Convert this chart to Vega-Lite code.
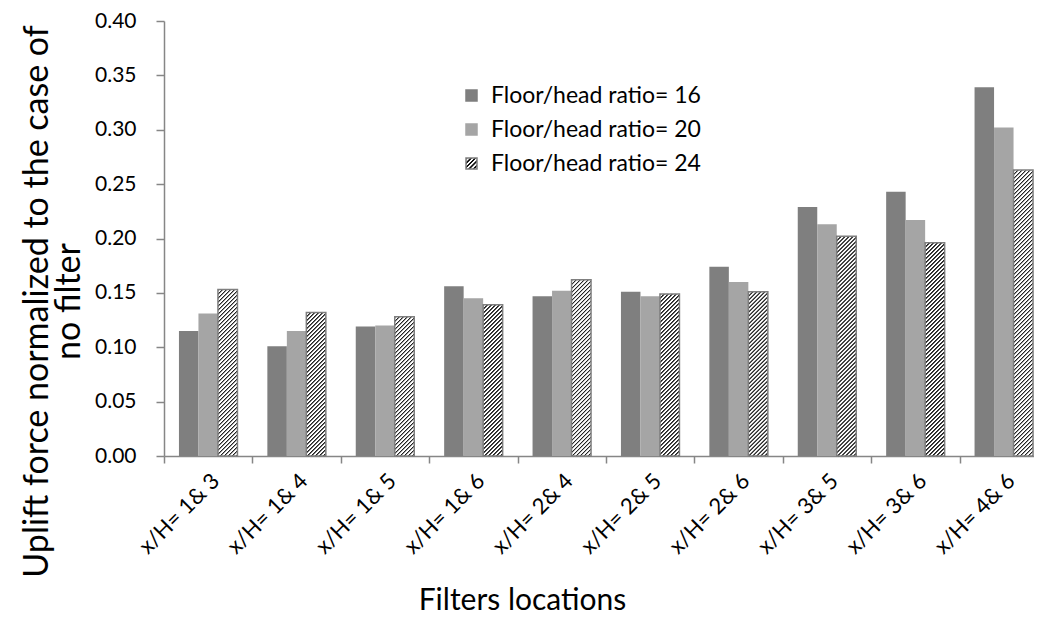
{
  "$schema": "https://vega.github.io/schema/vega-lite/v6.json",
  "autosize": {"type": "none"},
  "padding": {"left": 164, "top": 21, "right": 0, "bottom": 163},
  "width": 870,
  "height": 435,
  "background": "white",
  "params": [
    {
      "name": "hatch",
      "value": [
        {"offset":0,"color":"#222"},{"offset":0.002,"color":"#222"},{"offset":0.005,"color":"#fff"},{"offset":0.009,"color":"#fff"},
        {"offset":0.01,"color":"#222"},{"offset":0.012,"color":"#222"},{"offset":0.015,"color":"#fff"},{"offset":0.019,"color":"#fff"},
        {"offset":0.02,"color":"#222"},{"offset":0.022,"color":"#222"},{"offset":0.025,"color":"#fff"},{"offset":0.029,"color":"#fff"},
        {"offset":0.03,"color":"#222"},{"offset":0.032,"color":"#222"},{"offset":0.035,"color":"#fff"},{"offset":0.039,"color":"#fff"},
        {"offset":0.04,"color":"#222"},{"offset":0.042,"color":"#222"},{"offset":0.045,"color":"#fff"},{"offset":0.049,"color":"#fff"},
        {"offset":0.05,"color":"#222"},{"offset":0.052,"color":"#222"},{"offset":0.055,"color":"#fff"},{"offset":0.059,"color":"#fff"},
        {"offset":0.06,"color":"#222"},{"offset":0.062,"color":"#222"},{"offset":0.065,"color":"#fff"},{"offset":0.069,"color":"#fff"},
        {"offset":0.07,"color":"#222"},{"offset":0.072,"color":"#222"},{"offset":0.075,"color":"#fff"},{"offset":0.079,"color":"#fff"},
        {"offset":0.08,"color":"#222"},{"offset":0.082,"color":"#222"},{"offset":0.085,"color":"#fff"},{"offset":0.089,"color":"#fff"},
        {"offset":0.09,"color":"#222"},{"offset":0.092,"color":"#222"},{"offset":0.095,"color":"#fff"},{"offset":0.099,"color":"#fff"},
        {"offset":0.10,"color":"#222"},{"offset":0.102,"color":"#222"},{"offset":0.105,"color":"#fff"},{"offset":0.109,"color":"#fff"},
        {"offset":0.11,"color":"#222"},{"offset":0.112,"color":"#222"},{"offset":0.115,"color":"#fff"},{"offset":0.119,"color":"#fff"},
        {"offset":0.12,"color":"#222"},{"offset":0.122,"color":"#222"},{"offset":0.125,"color":"#fff"},{"offset":0.129,"color":"#fff"},
        {"offset":0.13,"color":"#222"},{"offset":0.132,"color":"#222"},{"offset":0.135,"color":"#fff"},{"offset":0.139,"color":"#fff"},
        {"offset":0.14,"color":"#222"},{"offset":0.142,"color":"#222"},{"offset":0.145,"color":"#fff"},{"offset":0.149,"color":"#fff"},
        {"offset":0.15,"color":"#222"},{"offset":0.152,"color":"#222"},{"offset":0.155,"color":"#fff"},{"offset":0.159,"color":"#fff"},
        {"offset":0.16,"color":"#222"},{"offset":0.162,"color":"#222"},{"offset":0.165,"color":"#fff"},{"offset":0.169,"color":"#fff"},
        {"offset":0.17,"color":"#222"},{"offset":0.172,"color":"#222"},{"offset":0.175,"color":"#fff"},{"offset":0.179,"color":"#fff"},
        {"offset":0.18,"color":"#222"},{"offset":0.182,"color":"#222"},{"offset":0.185,"color":"#fff"},{"offset":0.189,"color":"#fff"},
        {"offset":0.19,"color":"#222"},{"offset":0.192,"color":"#222"},{"offset":0.195,"color":"#fff"},{"offset":0.199,"color":"#fff"},
        {"offset":0.20,"color":"#222"},{"offset":0.202,"color":"#222"},{"offset":0.205,"color":"#fff"},{"offset":0.209,"color":"#fff"},
        {"offset":0.21,"color":"#222"},{"offset":0.212,"color":"#222"},{"offset":0.215,"color":"#fff"},{"offset":0.219,"color":"#fff"},
        {"offset":0.22,"color":"#222"},{"offset":0.222,"color":"#222"},{"offset":0.225,"color":"#fff"},{"offset":0.229,"color":"#fff"},
        {"offset":0.23,"color":"#222"},{"offset":0.232,"color":"#222"},{"offset":0.235,"color":"#fff"},{"offset":0.239,"color":"#fff"},
        {"offset":0.24,"color":"#222"},{"offset":0.242,"color":"#222"},{"offset":0.245,"color":"#fff"},{"offset":0.249,"color":"#fff"},
        {"offset":0.25,"color":"#222"},{"offset":0.252,"color":"#222"},{"offset":0.255,"color":"#fff"},{"offset":0.259,"color":"#fff"},
        {"offset":0.26,"color":"#222"},{"offset":0.262,"color":"#222"},{"offset":0.265,"color":"#fff"},{"offset":0.269,"color":"#fff"},
        {"offset":0.27,"color":"#222"},{"offset":0.272,"color":"#222"},{"offset":0.275,"color":"#fff"},{"offset":0.279,"color":"#fff"},
        {"offset":0.28,"color":"#222"},{"offset":0.282,"color":"#222"},{"offset":0.285,"color":"#fff"},{"offset":0.289,"color":"#fff"},
        {"offset":0.29,"color":"#222"},{"offset":0.292,"color":"#222"},{"offset":0.295,"color":"#fff"},{"offset":0.299,"color":"#fff"},
        {"offset":0.30,"color":"#222"},{"offset":0.302,"color":"#222"},{"offset":0.305,"color":"#fff"},{"offset":0.309,"color":"#fff"},
        {"offset":0.31,"color":"#222"},{"offset":0.312,"color":"#222"},{"offset":0.315,"color":"#fff"},{"offset":0.319,"color":"#fff"},
        {"offset":0.32,"color":"#222"},{"offset":0.322,"color":"#222"},{"offset":0.325,"color":"#fff"},{"offset":0.329,"color":"#fff"},
        {"offset":0.33,"color":"#222"},{"offset":0.332,"color":"#222"},{"offset":0.335,"color":"#fff"},{"offset":0.339,"color":"#fff"},
        {"offset":0.34,"color":"#222"},{"offset":0.342,"color":"#222"},{"offset":0.345,"color":"#fff"},{"offset":0.349,"color":"#fff"},
        {"offset":0.35,"color":"#222"},{"offset":0.352,"color":"#222"},{"offset":0.355,"color":"#fff"},{"offset":0.359,"color":"#fff"},
        {"offset":0.36,"color":"#222"},{"offset":0.362,"color":"#222"},{"offset":0.365,"color":"#fff"},{"offset":0.369,"color":"#fff"},
        {"offset":0.37,"color":"#222"},{"offset":0.372,"color":"#222"},{"offset":0.375,"color":"#fff"},{"offset":0.379,"color":"#fff"},
        {"offset":0.38,"color":"#222"},{"offset":0.382,"color":"#222"},{"offset":0.385,"color":"#fff"},{"offset":0.389,"color":"#fff"},
        {"offset":0.39,"color":"#222"},{"offset":0.392,"color":"#222"},{"offset":0.395,"color":"#fff"},{"offset":0.399,"color":"#fff"},
        {"offset":0.40,"color":"#222"},{"offset":0.402,"color":"#222"},{"offset":0.405,"color":"#fff"},{"offset":0.409,"color":"#fff"},
        {"offset":0.41,"color":"#222"},{"offset":0.412,"color":"#222"},{"offset":0.415,"color":"#fff"},{"offset":0.419,"color":"#fff"},
        {"offset":0.42,"color":"#222"},{"offset":0.422,"color":"#222"},{"offset":0.425,"color":"#fff"},{"offset":0.429,"color":"#fff"},
        {"offset":0.43,"color":"#222"},{"offset":0.432,"color":"#222"},{"offset":0.435,"color":"#fff"},{"offset":0.439,"color":"#fff"},
        {"offset":0.44,"color":"#222"},{"offset":0.442,"color":"#222"},{"offset":0.445,"color":"#fff"},{"offset":0.449,"color":"#fff"},
        {"offset":0.45,"color":"#222"},{"offset":0.452,"color":"#222"},{"offset":0.455,"color":"#fff"},{"offset":0.459,"color":"#fff"},
        {"offset":0.46,"color":"#222"},{"offset":0.462,"color":"#222"},{"offset":0.465,"color":"#fff"},{"offset":0.469,"color":"#fff"},
        {"offset":0.47,"color":"#222"},{"offset":0.472,"color":"#222"},{"offset":0.475,"color":"#fff"},{"offset":0.479,"color":"#fff"},
        {"offset":0.48,"color":"#222"},{"offset":0.482,"color":"#222"},{"offset":0.485,"color":"#fff"},{"offset":0.489,"color":"#fff"},
        {"offset":0.49,"color":"#222"},{"offset":0.492,"color":"#222"},{"offset":0.495,"color":"#fff"},{"offset":0.499,"color":"#fff"},
        {"offset":0.50,"color":"#222"},{"offset":0.502,"color":"#222"},{"offset":0.505,"color":"#fff"},{"offset":0.509,"color":"#fff"},
        {"offset":0.51,"color":"#222"},{"offset":0.512,"color":"#222"},{"offset":0.515,"color":"#fff"},{"offset":0.519,"color":"#fff"},
        {"offset":0.52,"color":"#222"},{"offset":0.522,"color":"#222"},{"offset":0.525,"color":"#fff"},{"offset":0.529,"color":"#fff"},
        {"offset":0.53,"color":"#222"},{"offset":0.532,"color":"#222"},{"offset":0.535,"color":"#fff"},{"offset":0.539,"color":"#fff"},
        {"offset":0.54,"color":"#222"},{"offset":0.542,"color":"#222"},{"offset":0.545,"color":"#fff"},{"offset":0.549,"color":"#fff"},
        {"offset":0.55,"color":"#222"},{"offset":0.552,"color":"#222"},{"offset":0.555,"color":"#fff"},{"offset":0.559,"color":"#fff"},
        {"offset":0.56,"color":"#222"},{"offset":0.562,"color":"#222"},{"offset":0.565,"color":"#fff"},{"offset":0.569,"color":"#fff"},
        {"offset":0.57,"color":"#222"},{"offset":0.572,"color":"#222"},{"offset":0.575,"color":"#fff"},{"offset":0.579,"color":"#fff"},
        {"offset":0.58,"color":"#222"},{"offset":0.582,"color":"#222"},{"offset":0.585,"color":"#fff"},{"offset":0.589,"color":"#fff"},
        {"offset":0.59,"color":"#222"},{"offset":0.592,"color":"#222"},{"offset":0.595,"color":"#fff"},{"offset":0.599,"color":"#fff"},
        {"offset":0.60,"color":"#222"},{"offset":0.602,"color":"#222"},{"offset":0.605,"color":"#fff"},{"offset":0.609,"color":"#fff"},
        {"offset":0.61,"color":"#222"},{"offset":0.612,"color":"#222"},{"offset":0.615,"color":"#fff"},{"offset":0.619,"color":"#fff"},
        {"offset":0.62,"color":"#222"},{"offset":0.622,"color":"#222"},{"offset":0.625,"color":"#fff"},{"offset":0.629,"color":"#fff"},
        {"offset":0.63,"color":"#222"},{"offset":0.632,"color":"#222"},{"offset":0.635,"color":"#fff"},{"offset":0.639,"color":"#fff"},
        {"offset":0.64,"color":"#222"},{"offset":0.642,"color":"#222"},{"offset":0.645,"color":"#fff"},{"offset":0.649,"color":"#fff"},
        {"offset":0.65,"color":"#222"},{"offset":0.652,"color":"#222"},{"offset":0.655,"color":"#fff"},{"offset":0.659,"color":"#fff"},
        {"offset":0.66,"color":"#222"},{"offset":0.662,"color":"#222"},{"offset":0.665,"color":"#fff"},{"offset":0.669,"color":"#fff"},
        {"offset":0.67,"color":"#222"},{"offset":0.672,"color":"#222"},{"offset":0.675,"color":"#fff"},{"offset":0.679,"color":"#fff"},
        {"offset":0.68,"color":"#222"},{"offset":0.682,"color":"#222"},{"offset":0.685,"color":"#fff"},{"offset":0.689,"color":"#fff"},
        {"offset":0.69,"color":"#222"},{"offset":0.692,"color":"#222"},{"offset":0.695,"color":"#fff"},{"offset":0.699,"color":"#fff"},
        {"offset":0.70,"color":"#222"},{"offset":0.702,"color":"#222"},{"offset":0.705,"color":"#fff"},{"offset":0.709,"color":"#fff"},
        {"offset":0.71,"color":"#222"},{"offset":0.712,"color":"#222"},{"offset":0.715,"color":"#fff"},{"offset":0.719,"color":"#fff"},
        {"offset":0.72,"color":"#222"},{"offset":0.722,"color":"#222"},{"offset":0.725,"color":"#fff"},{"offset":0.729,"color":"#fff"},
        {"offset":0.73,"color":"#222"},{"offset":0.732,"color":"#222"},{"offset":0.735,"color":"#fff"},{"offset":0.739,"color":"#fff"},
        {"offset":0.74,"color":"#222"},{"offset":0.742,"color":"#222"},{"offset":0.745,"color":"#fff"},{"offset":0.749,"color":"#fff"},
        {"offset":0.75,"color":"#222"},{"offset":0.752,"color":"#222"},{"offset":0.755,"color":"#fff"},{"offset":0.759,"color":"#fff"},
        {"offset":0.76,"color":"#222"},{"offset":0.762,"color":"#222"},{"offset":0.765,"color":"#fff"},{"offset":0.769,"color":"#fff"},
        {"offset":0.77,"color":"#222"},{"offset":0.772,"color":"#222"},{"offset":0.775,"color":"#fff"},{"offset":0.779,"color":"#fff"},
        {"offset":0.78,"color":"#222"},{"offset":0.782,"color":"#222"},{"offset":0.785,"color":"#fff"},{"offset":0.789,"color":"#fff"},
        {"offset":0.79,"color":"#222"},{"offset":0.792,"color":"#222"},{"offset":0.795,"color":"#fff"},{"offset":0.799,"color":"#fff"}
      ]
    }
  ],
  "data": {
    "values": [
      {"loc": "x/H= 1& 3", "ratio": "16", "v": 0.115},
      {"loc": "x/H= 1& 3", "ratio": "20", "v": 0.131},
      {"loc": "x/H= 1& 3", "ratio": "24", "v": 0.153},
      {"loc": "x/H= 1& 4", "ratio": "16", "v": 0.101},
      {"loc": "x/H= 1& 4", "ratio": "20", "v": 0.115},
      {"loc": "x/H= 1& 4", "ratio": "24", "v": 0.132},
      {"loc": "x/H= 1& 5", "ratio": "16", "v": 0.119},
      {"loc": "x/H= 1& 5", "ratio": "20", "v": 0.120},
      {"loc": "x/H= 1& 5", "ratio": "24", "v": 0.128},
      {"loc": "x/H= 1& 6", "ratio": "16", "v": 0.156},
      {"loc": "x/H= 1& 6", "ratio": "20", "v": 0.145},
      {"loc": "x/H= 1& 6", "ratio": "24", "v": 0.139},
      {"loc": "x/H= 2& 4", "ratio": "16", "v": 0.147},
      {"loc": "x/H= 2& 4", "ratio": "20", "v": 0.152},
      {"loc": "x/H= 2& 4", "ratio": "24", "v": 0.162},
      {"loc": "x/H= 2& 5", "ratio": "16", "v": 0.151},
      {"loc": "x/H= 2& 5", "ratio": "20", "v": 0.147},
      {"loc": "x/H= 2& 5", "ratio": "24", "v": 0.149},
      {"loc": "x/H= 2& 6", "ratio": "16", "v": 0.174},
      {"loc": "x/H= 2& 6", "ratio": "20", "v": 0.160},
      {"loc": "x/H= 2& 6", "ratio": "24", "v": 0.151},
      {"loc": "x/H= 3& 5", "ratio": "16", "v": 0.229},
      {"loc": "x/H= 3& 5", "ratio": "20", "v": 0.213},
      {"loc": "x/H= 3& 5", "ratio": "24", "v": 0.202},
      {"loc": "x/H= 3& 6", "ratio": "16", "v": 0.243},
      {"loc": "x/H= 3& 6", "ratio": "20", "v": 0.217},
      {"loc": "x/H= 3& 6", "ratio": "24", "v": 0.196},
      {"loc": "x/H= 4& 6", "ratio": "16", "v": 0.339},
      {"loc": "x/H= 4& 6", "ratio": "20", "v": 0.302},
      {"loc": "x/H= 4& 6", "ratio": "24", "v": 0.263}
    ]
  },
  "encoding": {
    "x": {
      "field": "loc",
      "type": "nominal",
      "sort": null,
      "scale": {"range": [0, 884], "paddingInner": 0, "paddingOuter": 0},
      "axis": {
        "title": "Filters locations",
        "titleFontSize": 30,
        "titleFontWeight": "normal",
        "titleX": 358,
        "titleY": 144,
        "titleBaseline": "middle",
        "labelAngle": -45,
        "labelAlign": "right",
        "labelBaseline": "top",
        "labelFontSize": 22,
        "labelPadding": 7,
        "tickBand": "extent",
        "tickSize": 7
      }
    },
    "xOffset": {
      "field": "ratio",
      "type": "nominal",
      "scale": {"domain": ["16", "20", "24"], "paddingInner": 0, "paddingOuter": 0.767}
    },
    "y": {
      "field": "v",
      "type": "quantitative",
      "scale": {"domain": [0, 0.4], "nice": false},
      "axis": {
        "title": ["Uplift force normalized to the case of", "no filter"],
        "titleFontSize": 34,
        "titleFontWeight": "normal",
        "titleLineHeight": 32,
        "titleX": -127,
        "titleY": 280,
        "titleBaseline": "middle",
        "titleAlign": "center",
        "values": [0, 0.05, 0.1, 0.15, 0.2, 0.25, 0.3, 0.35, 0.4],
        "format": ".2f",
        "labelFontSize": 21,
        "labelPadding": 20,
        "tickSize": 8,
        "grid": false
      }
    }
  },
  "layer": [
    {
      "transform": [{"filter": "datum.ratio !== '24'"}],
      "mark": {"type": "bar"},
      "encoding": {
        "color": {
          "field": "ratio",
          "type": "nominal",
          "scale": {
            "domain": ["16", "20", "24"],
            "range": [
              "#7f7f7f",
              "#a5a5a5",
              {"expr": "{gradient:'linear',x1:0,y1:0,x2:1,y2:1,stops:[{offset:0,color:'#111'},{offset:0.07,color:'#111'},{offset:0.1,color:'#fff'},{offset:0.17,color:'#fff'},{offset:0.2,color:'#111'},{offset:0.27,color:'#111'},{offset:0.3,color:'#fff'},{offset:0.37,color:'#fff'},{offset:0.4,color:'#111'},{offset:0.47,color:'#111'},{offset:0.5,color:'#fff'},{offset:0.57,color:'#fff'},{offset:0.6,color:'#111'},{offset:0.67,color:'#111'},{offset:0.7,color:'#fff'},{offset:0.77,color:'#fff'},{offset:0.8,color:'#111'},{offset:0.87,color:'#111'},{offset:0.9,color:'#fff'},{offset:0.97,color:'#fff'},{offset:1,color:'#111'}]}"}
            ]
          },
          "legend": {
            "title": null,
            "orient": "none",
            "legendX": 296,
            "legendY": 63,
            "labelExpr": "'Floor/head ratio= ' + datum.label",
            "labelFontSize": 23,
            "labelLimit": 0,
            "labelOffset": 8,
            "rowPadding": 10,
            "symbolType": "square",
            "symbolSize": 121,
            "encode": {
              "symbols": {
                "update": {
                  "stroke": {"signal": "datum.value === '24' ? '#7f7f7f' : scale('color', datum.value)"},
                  "strokeWidth": {"value": 1.5},
                  "opacity": {"value": 1}
                }
              }
            }
          }
        }
      }
    },
    {
      "transform": [{"filter": "datum.ratio === '24'"}],
      "mark": {
        "type": "bar",
        "stroke": "#7f7f7f",
        "strokeWidth": 1.5,
        "fill": {"expr": "{gradient:'linear',x1:0,y1:0,x2:400*bandwidth('xOffset')/(pow(bandwidth('xOffset'),2)+pow(scale('y',0)-scale('y',datum.v),2)),y2:400*(scale('y',0)-scale('y',datum.v))/(pow(bandwidth('xOffset'),2)+pow(scale('y',0)-scale('y',datum.v),2)),stops:hatch}"}
      }
    }
  ],
  "config": {
    "font": "Lato",
    "view": {"stroke": null},
    "axis": {
      "domainColor": "#868686",
      "domainWidth": 1.5,
      "tickColor": "#868686",
      "tickWidth": 1.5,
      "labelColor": "#000000",
      "titleColor": "#000000",
      "labelFont": "Lato",
      "titleFont": "Lato",
      "grid": false
    },
    "legend": {"labelColor": "#000000", "labelFont": "Lato"}
  }
}
